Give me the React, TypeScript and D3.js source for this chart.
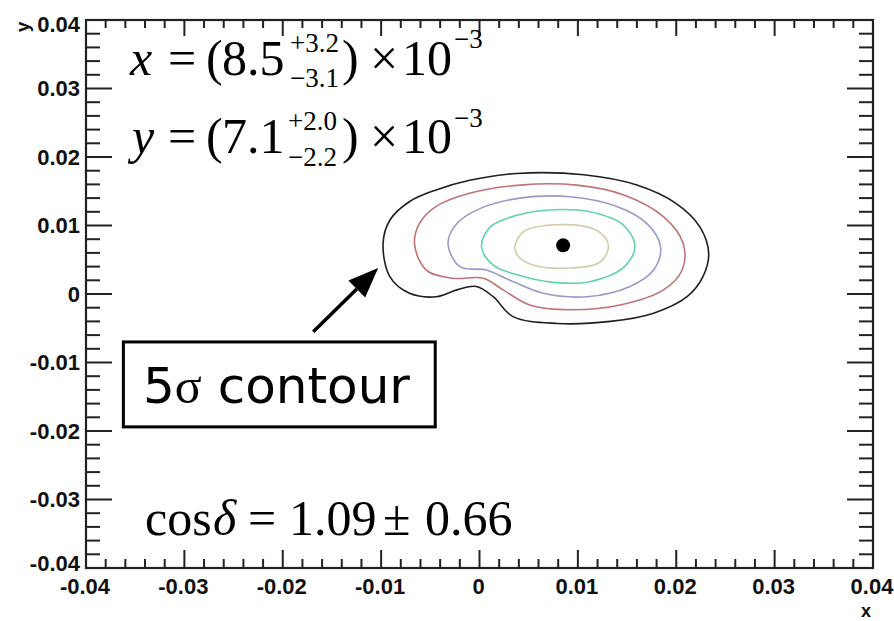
import * as d3 from "d3";
import { useMemo } from "react";

// tick values of both axes (major every 0.01, minor every 0.002)
const majorTicks = [-0.04, -0.03, -0.02, -0.01, 0, 0.01, 0.02, 0.03, 0.04];
const tickLabels = ["-0.04", "-0.03", "-0.02", "-0.01", "0", "0.01", "0.02", "0.03", "0.04"];
const minorTicks = d3.range(-20, 21).map((i) => i * 0.002);

// best fit point
const bestFit = [0.0085, 0.0071];

// contour lines, [x, y]
const contour5 = [
  [-0.0098, 0.0074], [-0.0091, 0.0108], [-0.0071, 0.0135], [-0.0044, 0.0152],
  [-0.001, 0.0166], [0.0038, 0.0176], [0.0106, 0.0174], [0.016, 0.0159],
  [0.02, 0.0132], [0.0224, 0.0098], [0.0233, 0.0059], [0.0227, 0.0025],
  [0.0211, -0.0004], [0.0177, -0.0028], [0.0133, -0.004], [0.0079, -0.0043],
  [0.0034, -0.0033], [0.0014, -0.0004], [-0.0003, 0.0011], [-0.0023, 0.0006],
  [-0.0044, -0.0004], [-0.0071, 0.0001], [-0.0091, 0.0025],
];
const contour4 = [
  [-0.0066, 0.0072], [-0.0061, 0.0103], [-0.0044, 0.0128], [-0.001, 0.0147],
  [0.0041, 0.0159], [0.0099, 0.0159], [0.0146, 0.0145], [0.0187, 0.0113],
  [0.0207, 0.0074], [0.0206, 0.0035], [0.0187, 0.0006], [0.0143, -0.0016],
  [0.0092, -0.0023], [0.0051, -0.0016], [0.0024, 0.0006], [0.0004, 0.0023],
  [-0.0027, 0.0023], [-0.0054, 0.0035],
];
const contour3 = [
  [-0.0032, 0.0074], [-0.0023, 0.0103], [0.0001, 0.0125], [0.0041, 0.014],
  [0.0092, 0.0142], [0.0139, 0.0128], [0.017, 0.0103], [0.0184, 0.0069],
  [0.0177, 0.0035], [0.0153, 0.0011], [0.0109, -0.0004], [0.0065, 0.0001],
  [0.0031, 0.002], [0.0007, 0.0035], [-0.002, 0.004],
];
const contour2 = [
  [0.0002, 0.0069], [0.0011, 0.0098], [0.0038, 0.0115], [0.0075, 0.0123],
  [0.0112, 0.012], [0.0146, 0.0101], [0.0158, 0.0069], [0.0146, 0.0038],
  [0.0112, 0.0018], [0.0075, 0.0017], [0.0038, 0.0028], [0.0014, 0.0042],
];
const contour1 = [
  [0.0036, 0.0069], [0.0045, 0.0091], [0.0078, 0.0101], [0.0119, 0.0093],
  [0.0131, 0.0072], [0.0123, 0.0047], [0.0092, 0.0038], [0.0055, 0.0042],
  [0.004, 0.0054],
];
const contours = [contour5, contour4, contour3, contour2, contour1];
const contourColors = ["#1e1e1e", "#c07474", "#9a9aca", "#62d2aa", "#d6caa6"];

// annotation: arrow and box in data coordinates
const arrowFrom = [-0.0169, -0.0055];
const arrowTo = [-0.0103, 0.0038];
const boxCorners = [[-0.0362, -0.007], [-0.0045, -0.0194]];

const W = 894;
const H = 621;
const margin = { top: 20, right: 21, bottom: 53, left: 86 };

const App = () => {
  const x = useMemo(() => d3.scaleLinear().domain([-0.04, 0.04]).range([margin.left, W - margin.right]), []);
  const y = useMemo(() => d3.scaleLinear().domain([-0.04, 0.04]).range([H - margin.bottom, margin.top]), []);
  const x0 = x(-0.04), x1 = x(0.04), y0 = y(-0.04), y1 = y(0.04);

  const line = d3
    .line<number[]>()
    .x((d) => x(d[0]))
    .y((d) => y(d[1]))
    .curve(d3.curveCatmullRomClosed.alpha(0.5));

  const isMajor = (i: number) => i % 5 === 0;

  // arrow head
  const ax0 = x(arrowFrom[0]), ay0 = y(arrowFrom[1]);
  const ax1 = x(arrowTo[0]), ay1 = y(arrowTo[1]);
  const ang = Math.atan2(ay1 - ay0, ax1 - ax0);
  const headLen = 30, headW = 12;
  const bx = ax1 - headLen * Math.cos(ang), by = ay1 - headLen * Math.sin(ang);
  const head = [
    [ax1, ay1],
    [bx + headW * Math.sin(ang), by - headW * Math.cos(ang)],
    [bx - headW * Math.sin(ang), by + headW * Math.cos(ang)],
  ];

  const serif = "'Liberation Serif', 'Times New Roman', serif";
  const sans = "'Liberation Sans', Arial, sans-serif";

  return (
    <svg width={W} height={H} style={{ position: "absolute", left: 0, top: 0, background: "#fff" }}>
      {/* contours */}
      {contours.map((c, i) => (
        <path key={i} d={line(c) || ""} fill="none" stroke={contourColors[i]} strokeWidth={1.6} />
      ))}
      <circle cx={x(bestFit[0])} cy={y(bestFit[1])} r={7} fill="#000" />

      {/* ticks */}
      {minorTicks.map((t, i) => {
        const big = isMajor(i + 20);
        return (
          <g key={i} stroke="#222" strokeWidth={2}>
            <line x1={x(t)} x2={x(t)} y1={y0} y2={y0 - (big ? 18 : 9)} />
            <line x1={x(t)} x2={x(t)} y1={y1} y2={y1 + (big ? 16 : 8)} />
            <line x1={x0} x2={x0 + (big ? 26 : 14)} y1={y(t)} y2={y(t)} />
            <line x1={x1} x2={x1 - (big ? 26 : 14)} y1={y(t)} y2={y(t)} />
          </g>
        );
      })}
      <rect x={x0} y={y1} width={x1 - x0} height={y0 - y1} fill="none" stroke="#222" strokeWidth={2.2} />

      {/* tick labels */}
      <g fontFamily={sans} fontWeight="bold" fontSize={22} fill="#111">
        {majorTicks.map((t, i) => (
          <text key={"x" + i} x={x(t) - 1} y={594} textAnchor="middle">{tickLabels[i]}</text>
        ))}
        {majorTicks.map((t, i) => (
          <text key={"y" + i} x={80} y={Math.min(Math.max(y(t), 24), 563)} dy="0.36em" textAnchor="end">{tickLabels[i]}</text>
        ))}
      </g>
      <text x={866} y={617} fontFamily={sans} fontWeight="bold" fontSize={18} textAnchor="middle" fill="#111">x</text>
      <text transform="translate(29,27) rotate(-90)" fontFamily={sans} fontWeight="bold" fontSize={19} textAnchor="middle" fill="#111">y</text>

      {/* fit results */}
      <g fontFamily={serif} fill="#000">
        <text x={130} y={75} fontSize={50} fontStyle="italic">x</text>
        <text x={168} y={75} fontSize={50}>=</text>
        <text x={206} y={75} fontSize={50}>(</text>
        <text x={222} y={75} fontSize={50}>8.5</text>
        <text x={290} y={52} fontSize={27}>+3.2</text>
        <text x={290} y={87} fontSize={27}>−3.1</text>
        <text x={342} y={75} fontSize={50}>)</text>
        <text x={370} y={75} fontSize={50}>×</text>
        <text x={402} y={75} fontSize={50}>10</text>
        <text x={454} y={48} fontSize={27}>−3</text>

        <text x={132} y={153} fontSize={50} fontStyle="italic">y</text>
        <text x={168} y={153} fontSize={50}>=</text>
        <text x={206} y={153} fontSize={50}>(</text>
        <text x={222} y={153} fontSize={50}>7.1</text>
        <text x={288} y={130} fontSize={27}>+2.0</text>
        <text x={288} y={166} fontSize={27}>−2.2</text>
        <text x={342} y={153} fontSize={50}>)</text>
        <text x={370} y={153} fontSize={50}>×</text>
        <text x={402} y={153} fontSize={50}>10</text>
        <text x={454} y={127} fontSize={27}>−3</text>

        <text x={145} y={535} fontSize={50}>cos</text>
        <text x={213} y={535} fontSize={50} fontStyle="italic">δ</text>
        <text x={248} y={535} fontSize={50}>=</text>
        <text x={289} y={535} fontSize={50}>1.09</text>
        <text x={383} y={535} fontSize={50}>±</text>
        <text x={425} y={535} fontSize={50}>0.66</text>
      </g>

      {/* annotation */}
      <line x1={ax0} y1={ay0} x2={bx} y2={by} stroke="#000" strokeWidth={3.5} />
      <polygon points={head.map((p) => p.join(",")).join(" ")} fill="#000" />
      <rect
        x={x(boxCorners[0][0])}
        y={y(boxCorners[0][1])}
        width={x(boxCorners[1][0]) - x(boxCorners[0][0])}
        height={y(boxCorners[1][1]) - y(boxCorners[0][1])}
        fill="#fff"
        stroke="#000"
        strokeWidth={3}
      />
      <text x={143} y={403} fontSize={50} fontFamily="'DejaVu Sans', sans-serif" fill="#000">
        5<tspan fontFamily={serif}>σ</tspan> contour
      </text>
    </svg>
  );
};

export default App;
